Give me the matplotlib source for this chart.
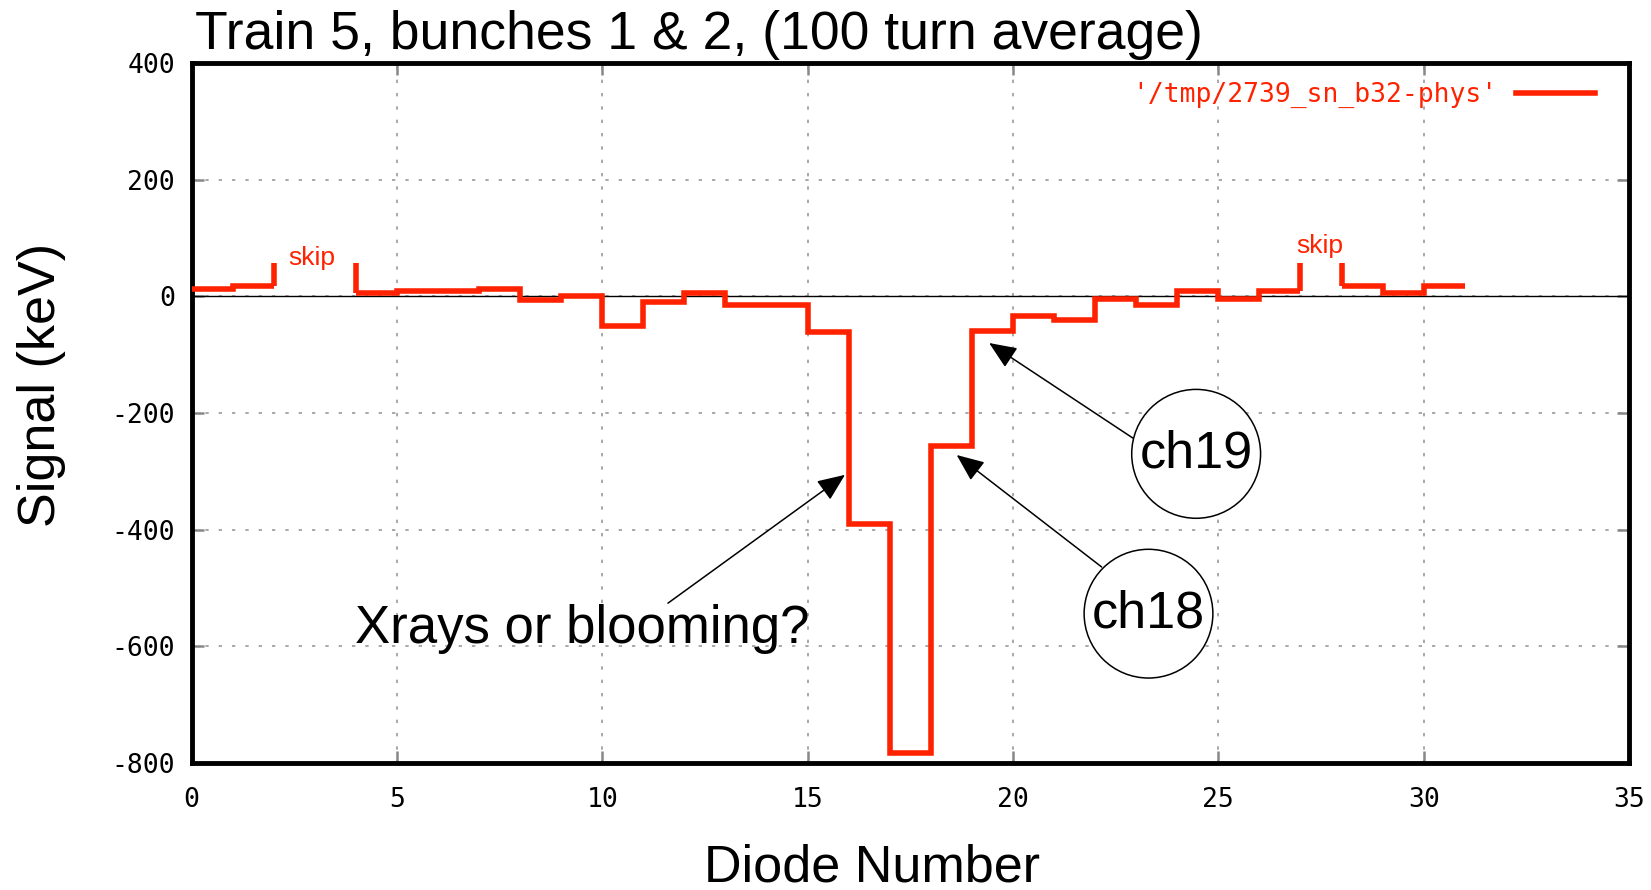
import numpy as np
import matplotlib
matplotlib.use('Agg')
import matplotlib.pyplot as plt

# per-diode signal (keV), 100 turn average; nan = skipped diode
diodes = np.arange(31)
signal = [13, 18, np.nan, np.nan, 5, 9, 9, 13, -7, 1,
          -51, -10, 5, -15, -15, -61, -390, -783, -257, -60,
          -33, -41, -4, -14, 9, -5, 9, np.nan, 17, 5, 18]
skip_level = 58
series_label = "'/tmp/2739_sn_b32-phys'"

x_ticks = [0, 5, 10, 15, 20, 25, 30, 35]
y_ticks = [-800, -600, -400, -200, 0, 200, 400]

RED = '#ff2200'
SANS = ['Liberation Sans', 'DejaVu Sans']
MONO = ['DejaVu Sans Mono']

plt.rcParams['axes.unicode_minus'] = False


def main():
    fig = plt.figure(figsize=(16.51, 8.90), dpi=100)
    ax = fig.add_axes([0.1160, 0.1427, 0.8707, 0.7865])

    vals = np.array(signal, dtype=float)
    edges = np.append(diodes, diodes[-1] + 1)
    ax.stairs(vals, edges, baseline=None, color=RED, lw=4, label=series_label,
              zorder=3)

    # skipped channels: draw the edges up to the skip marker level
    miss = np.isnan(vals)
    starts = np.array([i for i in range(1, len(vals)) if miss[i] and not miss[i - 1]])
    ends = np.array([i for i in range(len(vals) - 1) if miss[i] and not miss[i + 1]])
    ax.vlines(edges[starts], vals[starts - 1], skip_level, color=RED, lw=4, zorder=3)
    ax.vlines(edges[ends + 1], skip_level, vals[ends + 1], color=RED, lw=4, zorder=3)
    for x, y in [(2.92, 54), (27.48, 75)]:
        ax.text(x, y, 'skip', color=RED, fontsize=19, family=SANS,
                ha='center', va='baseline')

    ax.axhline(0, color='black', lw=1.0, zorder=2)

    ax.set_xlim(0, 35)
    ax.set_ylim(-800, 400)
    ax.set_xticks(x_ticks)
    ax.set_yticks(y_ticks)
    ax.tick_params(direction='in', length=8.6, width=1.8, color='#888888',
                   top=True, right=True, labelsize=19)
    ax.tick_params(axis='x', pad=17)
    ax.tick_params(axis='y', pad=12)
    for lab in ax.get_xticklabels() + ax.get_yticklabels():
        lab.set_family(MONO)
    ax.grid(True, color='#9a9a9a', linestyle=(0, (2, 6)), linewidth=1.2, zorder=1)
    for sp in ax.spines.values():
        sp.set_linewidth(3.5)
        sp.set_color('black')

    ax.legend(loc='center right', bbox_to_anchor=(0.9764, 0.954),
              frameon=False, markerfirst=False, borderpad=0,
              borderaxespad=0, handlelength=3.0, handletextpad=0.72,
              prop={'family': MONO, 'size': 19}, labelcolor=RED)

    fig.text(195 / 1651, 1 - 49.5 / 890, 'Train 5, bunches 1 & 2, (100 turn average)',
             fontsize=38.5, family=SANS, ha='left', va='baseline')
    fig.text(42 / 1651, 1 - 385 / 890, 'Signal (keV)', rotation=90,
             fontsize=37.5, family=SANS, ha='center', va='center')
    fig.text(872 / 1651, 1 - 882 / 890, 'Diode Number',
             fontsize=37.5, family=SANS, ha='center', va='baseline')

    # annotations
    arrow = dict(arrowstyle='-|>,head_length=0.85,head_width=0.36',
                 mutation_scale=20, color='black', lw=1.1,
                 shrinkA=0, shrinkB=0)
    ax.annotate('', xy=(15.91, -306), xytext=(11.60, -526), arrowprops=arrow)
    ax.text(9.51, -595, 'Xrays or blooming?', fontsize=38, family=SANS,
            ha='center', va='baseline')

    ax.annotate('', xy=(19.42, -80), xytext=(22.92, -243), arrowprops=arrow)
    ax.annotate('', xy=(18.63, -272), xytext=(22.16, -464), arrowprops=arrow)
    circle = dict(boxstyle='circle,pad=0.15', fc='white', ec='black', lw=1.1)
    ax.text(24.46, -270, 'ch19', fontsize=37.5, family=SANS, ha='center',
            va='center', bbox=circle, zorder=4)
    ax.text(23.30, -544, 'ch18', fontsize=37.5, family=SANS, ha='center',
            va='center', bbox=circle, zorder=4)

    fig.savefig('out.png', dpi=100)


if __name__ == '__main__':
    main()
